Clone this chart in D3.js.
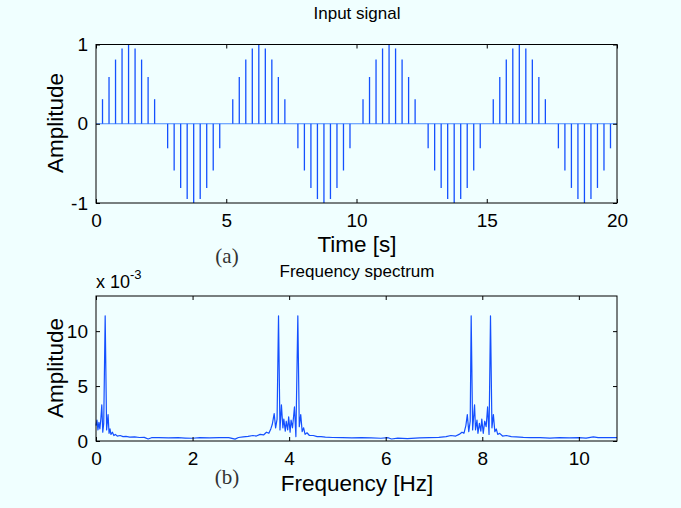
<!DOCTYPE html>
<html>
<head>
<meta charset="utf-8">
<title>Input signal and frequency spectrum</title>
<script src="https://d3js.org/d3.v7.min.js"></script>
<style>
body { margin: 0; background: #f0ffff; }
svg { display: block; font-family: "Liberation Sans", Arial, Helvetica, sans-serif; }
.tick line { stroke: #000; stroke-width: 1; }
.tick text { font-size: 19px; fill: #000; }
.lbl { font-size: 22.5px; fill: #000; }
.ttl { font-size: 17px; fill: #000; }
.tag { font-family: "Liberation Serif", "Times New Roman", serif; font-size: 21px; fill: #333; }
.box { fill: none; stroke: #000; stroke-width: 1; }
</style>
</head>
<body>
<svg id="chart" width="681" height="508"></svg>
<script>
// ---- data: (a) sampled input signal ----
var time = [0, 0.25, 0.5, 0.75, 1, 1.25, 1.5, 1.75, 2, 2.25, 2.5, 2.75, 3, 3.25, 3.5, 3.75, 4, 4.25, 4.5, 4.75,
  5, 5.25, 5.5, 5.75, 6, 6.25, 6.5, 6.75, 7, 7.25, 7.5, 7.75, 8, 8.25, 8.5, 8.75, 9, 9.25, 9.5, 9.75,
  10, 10.25, 10.5, 10.75, 11, 11.25, 11.5, 11.75, 12, 12.25, 12.5, 12.75, 13, 13.25, 13.5, 13.75, 14, 14.25, 14.5, 14.75,
  15, 15.25, 15.5, 15.75, 16, 16.25, 16.5, 16.75, 17, 17.25, 17.5, 17.75, 18, 18.25, 18.5, 18.75, 19, 19.25, 19.5, 19.75, 20];
var amplitude = [0, 0.31, 0.59, 0.81, 0.95, 1, 0.95, 0.81, 0.59, 0.31, 0, -0.31, -0.59, -0.81, -0.95, -1, -0.95, -0.81, -0.59, -0.31,
  0, 0.31, 0.59, 0.81, 0.95, 1, 0.95, 0.81, 0.59, 0.31, 0, -0.31, -0.59, -0.81, -0.95, -1, -0.95, -0.81, -0.59, -0.31,
  0, 0.31, 0.59, 0.81, 0.95, 1, 0.95, 0.81, 0.59, 0.31, 0, -0.31, -0.59, -0.81, -0.95, -1, -0.95, -0.81, -0.59, -0.31,
  0, 0.31, 0.59, 0.81, 0.95, 1, 0.95, 0.81, 0.59, 0.31, 0, -0.31, -0.59, -0.81, -0.95, -1, -0.95, -0.81, -0.59, -0.31, 0];
var timeTicks = [0, 5, 10, 15, 20];
var ampTicks = [-1, 0, 1];

// ---- data: (b) frequency spectrum, magnitude in units of 10^-3 ----
var freq = [0, 0.02, 0.04, 0.06, 0.08, 0.10, 0.12, 0.14, 0.16, 0.19, 0.22, 0.25, 0.27, 0.29, 0.31, 0.34, 0.37, 0.40, 0.44, 0.50,
  0.56, 0.62, 0.70, 0.80, 0.90, 1.00, 1.08, 1.15, 1.30, 1.50, 1.70, 1.85, 2.00, 2.15, 2.35, 2.55, 2.75, 2.88, 2.95, 3.05,
  3.15, 3.25, 3.32, 3.40, 3.47, 3.53, 3.58, 3.62, 3.65, 3.69, 3.72, 3.75, 3.78, 3.81, 3.84, 3.87, 3.89, 3.92, 3.94, 3.97,
  3.99, 4.02, 4.04, 4.07, 4.11, 4.14, 4.18, 4.21, 4.24, 4.27, 4.30, 4.33, 4.37, 4.42, 4.50, 4.58, 4.66, 4.75, 4.90, 5.10,
  5.30, 5.50, 5.70, 5.90, 6.05, 6.12, 6.25, 6.45, 6.70, 6.90, 7.10, 7.25, 7.35, 7.45, 7.52, 7.58, 7.62, 7.66, 7.69, 7.72,
  7.75, 7.77, 7.80, 7.84, 7.86, 7.89, 7.91, 7.94, 7.97, 7.99, 8.02, 8.05, 8.08, 8.11, 8.14, 8.17, 8.20, 8.23, 8.26, 8.29,
  8.32, 8.36, 8.42, 8.50, 8.60, 8.70, 8.85, 9.00, 9.20, 9.40, 9.60, 9.80, 10.00, 10.15, 10.30, 10.40, 10.60, 10.79];
var magnitude = [1.4, 1.9, 1.0, 1.7, 1.1, 2.0, 3.3, 0.8, 1.6, 11.4, 1.0, 2.4, 0.7, 1.1, 0.6, 0.8, 0.5, 0.6, 0.45, 0.5,
  0.4, 0.42, 0.35, 0.38, 0.32, 0.33, 0.18, 0.3, 0.3, 0.28, 0.3, 0.27, 0.25, 0.3, 0.28, 0.3, 0.3, 0.17, 0.32, 0.38,
  0.42, 0.5, 0.45, 0.6, 0.55, 0.8, 0.7, 1.1, 1.5, 2.5, 1.2, 2.0, 11.4, 1.0, 3.3, 1.2, 2.0, 0.9, 1.8, 1.0,
  2.2, 0.8, 1.9, 1.2, 3.1, 0.4, 11.4, 1.3, 2.4, 0.85, 1.2, 0.6, 0.75, 0.5, 0.5, 0.4, 0.4, 0.35, 0.32, 0.3,
  0.28, 0.3, 0.28, 0.25, 0.3, 0.18, 0.27, 0.22, 0.28, 0.3, 0.33, 0.4, 0.5, 0.45, 0.6, 0.8, 0.7, 1.4, 2.4, 0.85,
  1.8, 11.4, 1.0, 3.3, 1.0, 1.9, 0.7, 1.6, 0.9, 2.0, 0.7, 1.8, 1.3, 3.1, 0.6, 11.4, 1.2, 2.4, 0.85, 1.1,
  0.6, 0.7, 0.45, 0.5, 0.4, 0.38, 0.33, 0.3, 0.3, 0.26, 0.3, 0.28, 0.3, 0.27, 0.38, 0.3, 0.3, 0.3];
var freqTicks = [0, 2, 4, 6, 8, 10];
var magTicks = [0, 5, 10];

var blue = "#1450ff";
var svg = d3.select("#chart");
var plain = function(d) { return String(d); };

// draws a MATLAB-style boxed axes with inward ticks on all four sides
function boxAxes(g, x, y, xt, yt) {
  var w = x.range()[1] - x.range()[0], h = y.range()[0] - y.range()[1];
  g.append("g").attr("transform", "translate(0," + h + ")")
    .call(d3.axisBottom(x).tickValues(xt).tickFormat(plain).tickSizeInner(-4).tickSizeOuter(0).tickPadding(11))
    .call(function(a) { a.select(".domain").remove(); });
  g.append("g")
    .call(d3.axisTop(x).tickValues(xt).tickSizeInner(-4).tickSizeOuter(0).tickFormat(""))
    .call(function(a) { a.select(".domain").remove(); });
  g.append("g")
    .call(d3.axisLeft(y).tickValues(yt).tickFormat(plain).tickSizeInner(-4).tickSizeOuter(0).tickPadding(8))
    .call(function(a) { a.select(".domain").remove(); });
  g.append("g").attr("transform", "translate(" + w + ",0)")
    .call(d3.axisRight(y).tickValues(yt).tickSizeInner(-4).tickSizeOuter(0).tickFormat(""))
    .call(function(a) { a.select(".domain").remove(); });
  g.selectAll(".tick text").attr("font-family", null).attr("font-size", null);
  g.append("rect").attr("class", "box").attr("x", 0).attr("y", 0).attr("width", w).attr("height", h);
}

// ---- (a) input signal ----
var ga = svg.append("g").attr("transform", "translate(96,44.5)");
var xa = d3.scaleLinear().domain([0, 20]).range([0, 521]);
var ya = d3.scaleLinear().domain([-1, 1]).range([158.5, 0]);

ga.append("line")
  .attr("x1", xa(0)).attr("x2", xa(20)).attr("y1", ya(0)).attr("y2", ya(0))
  .attr("stroke", "#4a8cff").attr("stroke-width", 1.2);

ga.selectAll(".stem").data(time).enter().append("line")
  .attr("class", "stem")
  .attr("x1", function(d) { return xa(d); })
  .attr("x2", function(d) { return xa(d); })
  .attr("y1", ya(0))
  .attr("y2", function(d, i) { return ya(amplitude[i]); })
  .attr("stroke", blue).attr("stroke-width", 1.3);

boxAxes(ga, xa, ya, timeTicks, ampTicks);

svg.append("text").attr("class", "ttl").attr("x", 357).attr("y", 19).attr("text-anchor", "middle").text("Input signal");
svg.append("text").attr("class", "lbl").attr("x", 357).attr("y", 252).attr("text-anchor", "middle").text("Time [s]");
svg.append("text").attr("class", "lbl").attr("text-anchor", "middle")
  .attr("transform", "translate(63,123) rotate(-90)").text("Amplitude");
svg.append("text").attr("class", "tag").attr("x", 227).attr("y", 263).attr("text-anchor", "middle").text("(a)");

// ---- (b) frequency spectrum ----
var gb = svg.append("g").attr("transform", "translate(96,296)");
var xb = d3.scaleLinear().domain([0, 10.79]).range([0, 521]);
var yb = d3.scaleLinear().domain([0, 13.2]).range([145, 0]);

var spec = d3.line()
  .x(function(d) { return xb(d); })
  .y(function(d, i) { return yb(magnitude[i]); });

gb.append("path")
  .datum(freq)
  .attr("d", spec)
  .attr("fill", "none")
  .attr("stroke", blue)
  .attr("stroke-width", 1.2)
  .attr("stroke-linejoin", "round");

boxAxes(gb, xb, yb, freqTicks, magTicks);

svg.append("text").attr("class", "ttl").attr("x", 357).attr("y", 277).attr("text-anchor", "middle").text("Frequency spectrum");
var exp = svg.append("text").attr("x", 96).attr("y", 288).attr("font-size", "18px");
exp.append("tspan").text("x 10");
exp.append("tspan").attr("font-size", "13px").attr("dy", -9).text("-3");
svg.append("text").attr("class", "lbl").attr("x", 357).attr("y", 491).attr("text-anchor", "middle").text("Frequency [Hz]");
svg.append("text").attr("class", "lbl").attr("text-anchor", "middle")
  .attr("transform", "translate(63,368) rotate(-90)").text("Amplitude");
svg.append("text").attr("class", "tag").attr("x", 227).attr("y", 484).attr("text-anchor", "middle").text("(b)");
</script>
</body>
</html>
